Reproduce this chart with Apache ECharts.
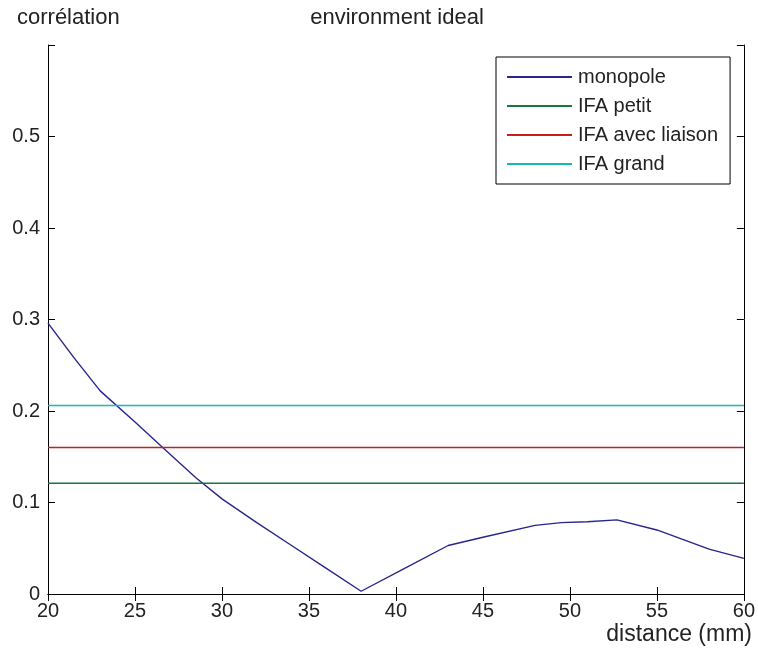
<!DOCTYPE html>
<html>
<head>
<meta charset="utf-8">
<script src="https://cdn.jsdelivr.net/npm/echarts@6/dist/echarts.min.js"></script>
<style>
  html, body { margin: 0; padding: 0; background: #fff; }
  #chart { width: 758px; height: 655px; }
</style>
</head>
<body>
<div id="chart"></div>
<script>
// data
var seriesNames = ['monopole', 'IFA petit', 'IFA avec liaison', 'IFA grand'];
var distance = [20, 21.5, 23, 25, 27, 28.5, 30, 32, 34, 36, 38, 40.5, 43, 45, 48, 49.5, 51, 52.7, 55, 58, 60];
var monopole = [0.296, 0.258, 0.222, 0.188, 0.153, 0.127, 0.104, 0.078, 0.053, 0.028, 0.003, 0.028, 0.053, 0.062, 0.075, 0.078, 0.079, 0.081, 0.070, 0.049, 0.039];
var ifaRange = [20, 60];
var ifaLevels = [0.121, 0.160, 0.206]; // petit, avec liaison, grand
var xTicks = [20, 25, 30, 35, 40, 45, 50, 55, 60];
var yTicks = [0, 0.1, 0.2, 0.3, 0.4, 0.5, 0.6];

var colors = ['#26268c', '#17783a', '#c81e1e', '#16b8b8'];
var fontFam = '"Liberation Sans", Arial, sans-serif';

var chart = echarts.init(document.getElementById('chart'), null, {renderer: 'canvas'});

var monoData = [];
for (var i = 0; i < distance.length; i++) {
  monoData.push([distance[i], monopole[i]]);
}

var series = [{
  name: seriesNames[0],
  type: 'line',
  data: monoData,
  symbol: 'none',
  lineStyle: {color: colors[0], width: 1.4},
  itemStyle: {color: colors[0]},
  animation: false
}];
for (var k = 0; k < ifaLevels.length; k++) {
  series.push({
    name: seriesNames[k + 1],
    type: 'line',
    data: [[ifaRange[0], ifaLevels[k]], [ifaRange[1], ifaLevels[k]]],
    symbol: 'none',
    lineStyle: {color: colors[k + 1], width: 1.5},
    itemStyle: {color: colors[k + 1]},
    animation: false
  });
}

var axisLine = {show: true, lineStyle: {color: '#000', width: 1}};
var axisTick = {show: true, inside: true, length: 7, lineStyle: {color: '#000', width: 1}};

var option = {
  backgroundColor: '#fff',
  animation: false,
  title: [
    {
      text: 'environment ideal',
      left: 397, top: 7, textAlign: 'center', padding: 0,
      textStyle: {fontFamily: fontFam, fontSize: 22, fontWeight: 'normal', color: '#222'}
    },
    {
      text: 'corrélation',
      left: 17, top: 7, padding: 0,
      textStyle: {fontFamily: fontFam, fontSize: 22, fontWeight: 'normal', color: '#222'}
    },
    {
      text: 'distance (mm)',
      right: 6, top: 623, padding: 0,
      textStyle: {fontFamily: fontFam, fontSize: 23, fontWeight: 'normal', color: '#222'}
    }
  ],
  legend: {
    orient: 'vertical',
    left: 496, top: 57,
    padding: [10, 12, 10, 11],
    itemGap: 9,
    itemWidth: 65,
    itemHeight: 2,
    icon: 'rect',
    backgroundColor: '#fff',
    borderColor: '#000',
    borderWidth: 1,
    data: seriesNames,
    textStyle: {fontFamily: fontFam, fontSize: 20, lineHeight: 20, color: '#222', padding: [0, 0, 0, 1]}
  },
  grid: {left: 48, right: 13, top: 45, bottom: 61, containLabel: false},
  xAxis: [
    {
      type: 'value', min: xTicks[0], max: xTicks[xTicks.length - 1], interval: 5,
      axisLine: axisLine, axisTick: axisTick, splitLine: {show: false},
      axisLabel: {margin: 7, fontFamily: fontFam, fontSize: 20, color: '#222'}
    },
    {
      type: 'value', position: 'top', min: xTicks[0], max: xTicks[xTicks.length - 1], interval: 5,
      axisLine: axisLine, axisTick: axisTick, splitLine: {show: false}, axisLabel: {show: false}
    }
  ],
  yAxis: [
    {
      type: 'value', min: yTicks[0], max: yTicks[yTicks.length - 1], interval: 0.1,
      axisLine: axisLine, axisTick: axisTick, splitLine: {show: false},
      axisLabel: {
        margin: 8, fontFamily: fontFam, fontSize: 20, color: '#222',
        formatter: function (v) {
          var r = Math.round(v * 10) / 10;
          return r >= 0.6 ? '' : String(r);
        }
      }
    },
    {
      type: 'value', position: 'right', min: yTicks[0], max: yTicks[yTicks.length - 1], interval: 0.1,
      axisLine: axisLine, axisTick: axisTick, splitLine: {show: false}, axisLabel: {show: false}
    }
  ],
  series: series
};

chart.setOption(option);
</script>
</body>
</html>
